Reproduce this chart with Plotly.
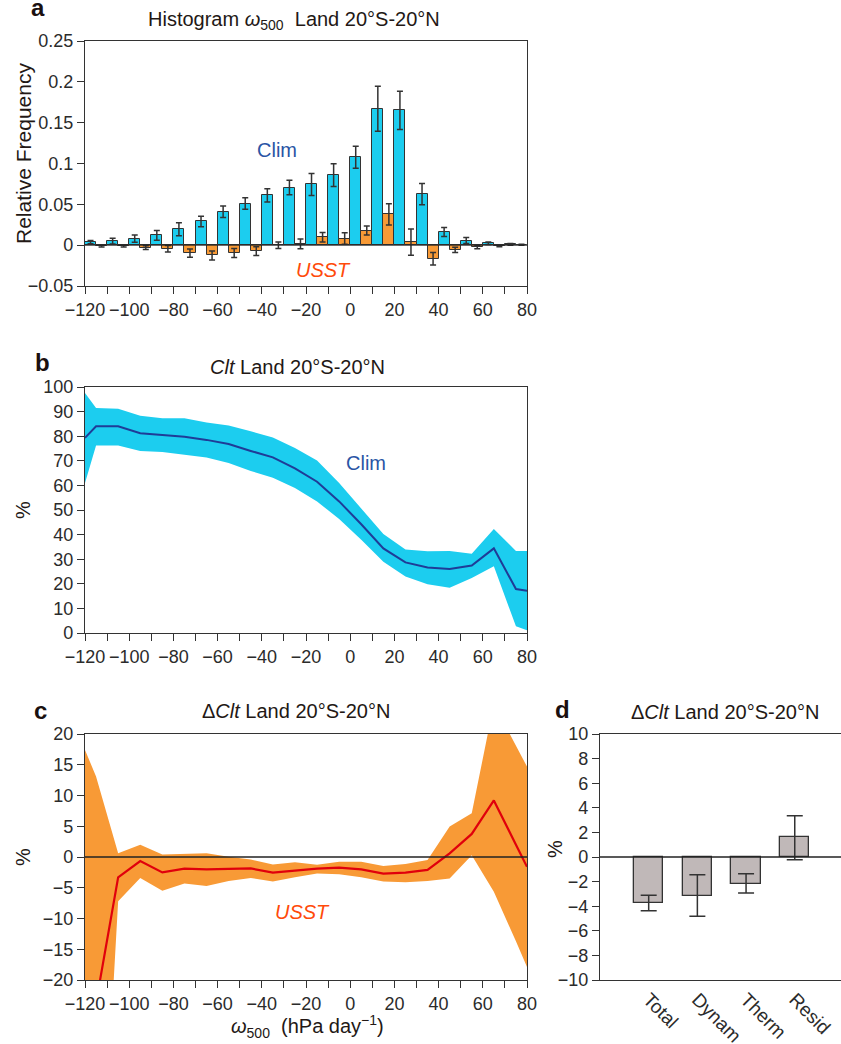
import plotly.graph_objects as go

# ---------------- data ----------------
# panel a: histogram of omega500 (bin centres, 10 hPa/day bins)
hist_omega = [-115, -105, -95, -85, -75, -65, -55, -45, -35, -25,
              -15, -5, 5, 15, 25, 35, 45, 55, 65, 75]
clim_freq = [0.0037, 0.005, 0.008, 0.012, 0.0195, 0.029, 0.041, 0.051, 0.061, 0.0706,
             0.0743, 0.0857, 0.1076, 0.167, 0.165, 0.0625, 0.0162, 0.0057, 0.0024, 0.001]
clim_err = [0.002, 0.0035, 0.0045, 0.006, 0.008, 0.0065, 0.007, 0.007, 0.008, 0.009,
            0.0136, 0.014, 0.0134, 0.0276, 0.0235, 0.013, 0.0055, 0.0037, 0.0015, 0.001]
usst_freq = [-0.0012, -0.0012, -0.003, -0.0045, -0.0097, -0.0126, -0.0097, -0.0073, 0.0, 0.0015,
             0.0097, 0.0081, 0.0179, 0.0378, 0.0037, -0.0166, -0.0057, -0.0024, -0.001, 0.0005]
usst_err = [0.001, 0.001, 0.0024, 0.004, 0.005, 0.0055, 0.0055, 0.0055, 0.004, 0.006,
            0.0057, 0.007, 0.0055, 0.013, 0.016, 0.0077, 0.0033, 0.002, 0.001, 0.0005]

# panels b, c: omega500 sample points
omega_pts = [-120, -115, -105, -95, -85, -75, -65, -55, -45, -35, -25,
             -15, -5, 5, 15, 25, 35, 45, 55, 65, 75, 80]
clt_clim = [79.3, 84.0, 84.0, 81.2, 80.5, 79.8, 78.5, 76.8, 74.0, 71.4, 66.9,
            61.5, 53.5, 44.2, 34.4, 28.7, 26.6, 26.0, 27.4, 34.4, 17.9, 17.2]
clt_hi = [97.6, 91.5, 91.2, 88.3, 87.3, 87.3, 85.6, 84.3, 82.0, 79.5, 75.2,
          70.1, 61.0, 50.4, 40.2, 33.9, 33.2, 33.3, 32.2, 42.3, 33.3, 33.3]
clt_lo = [61.0, 76.2, 76.2, 74.0, 73.6, 72.4, 71.3, 69.1, 65.9, 63.1, 58.9,
          53.5, 46.3, 37.9, 29.0, 23.0, 19.8, 18.4, 22.4, 27.1, 2.7, 1.1]

dclt = [-26.0, -23.7, -3.3, -0.65, -2.5, -1.9, -2.0, -1.96, -1.85, -2.55, -2.17,
        -1.9, -1.74, -2.0, -2.7, -2.55, -2.1, 0.6, 3.75, 9.2, 2.0, -1.6]
dclt_hi = [17.4, 13.1, 0.6, 2.0, 0.4, 0.5, 0.6, 0.05, -0.4, -1.2, -0.87,
           -1.25, -0.76, -0.76, -1.47, -1.14, -0.5, 4.95, 7.1, 24.9, 18.2, 14.7]
dclt_lo = [-80.0, -71.0, -7.2, -3.4, -5.5, -4.3, -4.7, -3.9, -3.4, -4.0, -3.3,
           -2.7, -2.8, -3.3, -4.0, -4.1, -3.9, -3.5, 0.3, -5.65, -13.7, -17.9]

# panel d: decomposition
decomp_cat = ["Total", "Dynam", "Therm", "Resid"]
decomp_val = [-3.70, -3.13, -2.16, 1.61]
decomp_hi = [-3.10, -1.45, -1.37, 3.35]
decomp_lo = [-4.36, -4.82, -2.92, -0.23]

# ---------------- style ----------------
W, H = 841, 1044
FONT = "Liberation Sans, Arial, Helvetica, sans-serif"
AX = "#333333"
TXT = "#231815"
CYAN = "#1ccdef"
ORANGE = "#f89a36"


def X(px):
    return px / W


def Y(py):
    return 1 - py / H


fig = go.Figure()

# panel a
fig.add_trace(go.Bar(x=hist_omega, y=clim_freq, xaxis="x", yaxis="y",
                     marker=dict(color=CYAN, line=dict(color=AX, width=1)),
                     error_y=dict(type="data", array=clim_err, color=AX, thickness=1.5, width=3),
                     showlegend=False))
fig.add_trace(go.Bar(x=hist_omega, y=usst_freq, xaxis="x", yaxis="y",
                     marker=dict(color=ORANGE, line=dict(color=AX, width=1)),
                     error_y=dict(type="data", array=usst_err, color=AX, thickness=1.5, width=3),
                     showlegend=False))

# panel b
fig.add_trace(go.Scatter(x=omega_pts, y=clt_lo, xaxis="x2", yaxis="y2", mode="lines",
                         line=dict(width=0, color=CYAN), showlegend=False, hoverinfo="skip"))
fig.add_trace(go.Scatter(x=omega_pts, y=clt_hi, xaxis="x2", yaxis="y2", mode="lines",
                         line=dict(width=0, color=CYAN), fill="tonexty", fillcolor=CYAN,
                         showlegend=False, hoverinfo="skip"))
fig.add_trace(go.Scatter(x=omega_pts, y=clt_clim, xaxis="x2", yaxis="y2", mode="lines",
                         line=dict(width=2, color="#1f3c97"), showlegend=False))

# panel c
fig.add_trace(go.Scatter(x=omega_pts, y=dclt_lo, xaxis="x3", yaxis="y3", mode="lines",
                         line=dict(width=0, color=ORANGE), showlegend=False, hoverinfo="skip"))
fig.add_trace(go.Scatter(x=omega_pts, y=dclt_hi, xaxis="x3", yaxis="y3", mode="lines",
                         line=dict(width=0, color=ORANGE), fill="tonexty", fillcolor=ORANGE,
                         showlegend=False, hoverinfo="skip"))
fig.add_trace(go.Scatter(x=omega_pts, y=dclt, xaxis="x3", yaxis="y3", mode="lines",
                         line=dict(width=2.2, color="#e0000c"), showlegend=False))

# panel d
fig.add_trace(go.Bar(x=decomp_cat, y=decomp_val, xaxis="x4", yaxis="y4", width=0.6,
                     marker=dict(color="#c0b8b8", line=dict(color=AX, width=1.3)),
                     error_y=dict(type="data", symmetric=False,
                                  array=[h - v for h, v in zip(decomp_hi, decomp_val)],
                                  arrayminus=[v - l for v, l in zip(decomp_val, decomp_lo)],
                                  color=AX, thickness=1.5, width=8),
                     showlegend=False))

tickfont = dict(family=FONT, size=18, color="#2b2b2b")


def xax(domain, rng, anchor, labels=True):
    return dict(domain=domain, range=rng, anchor=anchor, showline=True, mirror=True,
                linecolor=AX, linewidth=1.2, ticks="outside", ticklen=7, tickwidth=1.2,
                tickcolor=AX, dtick=20, tick0=0, showgrid=False, zeroline=False,
                tickfont=tickfont, showticklabels=labels, automargin=False,
                minor=dict(dtick=10, tick0=0, ticks="outside", ticklen=7, tickwidth=1.2,
                           tickcolor=AX, showgrid=False))


def yax(domain, rng, anchor, dtick):
    return dict(domain=domain, range=rng, anchor=anchor, showline=True, mirror=True,
                linecolor=AX, linewidth=1.2, ticks="outside", ticklen=7, tickwidth=1.2,
                tickcolor=AX, dtick=dtick, tick0=0, showgrid=False, zeroline=False,
                tickfont=tickfont, automargin=False)


xd = [X(85), X(527)]
fig.update_layout(
    width=W, height=H, margin=dict(l=0, r=0, t=0, b=0, autoexpand=False),
    paper_bgcolor="white", plot_bgcolor="white",
    font=dict(family=FONT, color=TXT),
    barmode="group", bargap=0, bargroupgap=0,
    xaxis=xax(xd, [-120, 80], "y"),
    yaxis=yax([Y(286), Y(41)], [-0.05, 0.25], "x", 0.05),
    xaxis2=xax(xd, [-120, 80], "y2"),
    yaxis2=yax([Y(633), Y(387)], [0, 100], "x2", 10),
    xaxis3=xax(xd, [-120, 80], "y3"),
    yaxis3=yax([Y(980), Y(734)], [-20, 20], "x3", 5),
    xaxis4=dict(domain=[X(600), 1.0], range=[-1.0, 3.95], anchor="y4", showline=True,
                mirror=True, linecolor=AX, linewidth=1.2, ticks="", tickangle=45,
                tickfont=dict(family=FONT, size=19, color="#2b2b2b"), showgrid=False,
                zeroline=False, automargin=False),
    yaxis4=yax([Y(980), Y(734)], [-10, 10], "x4", 2),
)

# zero lines
for xr, yr, w in [("x domain", "y", 1.0), ("x3 domain", "y3", 1.5), ("x4 domain", "y4", 1.3)]:
    fig.add_shape(type="line", xref=xr, yref=yr, x0=0, x1=1, y0=0, y1=0,
                  line=dict(color="#222222", width=w), layer="above")


def ann(text, x, y, size=20, color=TXT, angle=0, bold=False, italic=False, xanchor="center"):
    if bold:
        text = "<b>" + text + "</b>"
    if italic:
        text = "<i>" + text + "</i>"
    fig.add_annotation(text=text, x=X(x), y=Y(y), xref="paper", yref="paper",
                       xanchor=xanchor, yanchor="middle", showarrow=False, textangle=angle,
                       font=dict(family=FONT, size=size, color=color))


# panel letters
ann("a", 29, 8, size=24, bold=True, color="#1a1010", xanchor="left")
ann("b", 33, 362, size=24, bold=True, color="#1a1010", xanchor="left")
ann("c", 32, 710, size=24, bold=True, color="#1a1010", xanchor="left")
ann("d", 553, 709, size=24, bold=True, color="#1a1010", xanchor="left")

# titles
ann("Histogram <i>ω</i><sub>500</sub>  Land 20°S-20°N", 294, 21)
ann("<i>Clt</i> Land 20°S-20°N", 297, 367)
ann("Δ<i>Clt</i> Land 20°S-20°N", 296, 711)
ann("Δ<i>Clt</i> Land 20°S-20°N", 725, 712)

# axis titles
ann("Relative Frequency", 23, 154, size=21, angle=-90)
ann("%", 23, 510, angle=-90)
ann("%", 23, 857, angle=-90)
ann("%", 555, 849, angle=-90)
ann("<i>ω</i><sub>500</sub>  (hPa day<sup>−1</sup>)", 307, 1026)

# in-panel labels
ann("Clim", 277, 150, color="#2a55a5")
ann("USST", 323, 270, color="#ff4a0a", italic=True)
ann("Clim", 366, 463, color="#2a55a5")
ann("USST", 302, 912, color="#ff4a0a", italic=True)

fig.write_html("out.html")
